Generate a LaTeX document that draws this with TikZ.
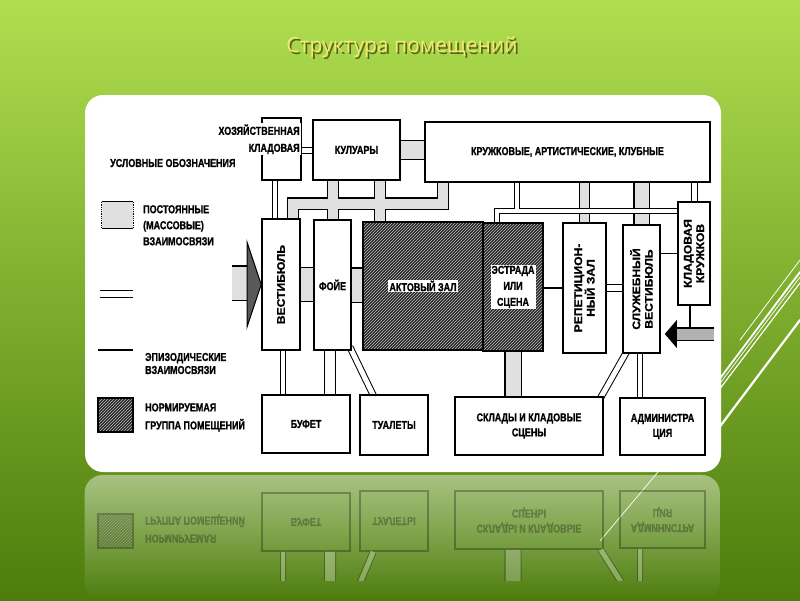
\documentclass[tikz,border=0pt]{standalone}
\usepackage{fontspec}
\setmainfont{Liberation Sans}
\newfontfamily\titlefont{Open Sans}
\newfontfamily\roomfont[FakeStretch=0.78, BoldFeatures={FakeBold=1}]{Liberation Sans}
\newfontfamily\vertfont[FakeStretch=1.1, BoldFeatures={FakeBold=1}]{Liberation Sans}
\usetikzlibrary{calc,patterns,fadings}

\definecolor{slidetop}{RGB}{176,222,80}
\definecolor{slidebot}{RGB}{76,124,12}
\definecolor{titleyellow}{RGB}{248,230,110}
\definecolor{titleshade}{RGB}{60,70,15}
\definecolor{stipple}{RGB}{224,224,224}

\pgfdeclarelayer{back}
\pgfdeclarelayer{links}
\pgfsetlayers{back,links,main}

% bottom row of rooms (drawn twice: plan and reflection)
\newcommand\lowerrooms[1]{%
  \node[normed, minimum width=35, minimum height=34] (#1legnorm) at (115.5,415) {};
  \node[legtext, anchor=west] (#1legnormtxt) at (145,417.5) {НОРМИРУЕМАЯ\\[2pt]ГРУППА ПОМЕЩЕНИЙ};
  \node[room, minimum width=88, minimum height=58] (#1bufet) at (306,424) {БУФЕТ};
  \node[room, minimum width=68, minimum height=60] (#1tual) at (394,425) {ТУАЛЕТЫ};
  \node[room, minimum width=148, minimum height=58] (#1sklad) at (529,426) {СКЛАДЫ И КЛАДОВЫЕ\\СЦЕНЫ};
  \node[room, minimum width=85, minimum height=57] (#1adm) at (662.5,426.5) {АДМИНИСТРА\\ЦИЯ};
}

\begin{document}
\begin{tikzpicture}[x=1pt, y=-1pt,
    room/.style={draw, line width=1.6pt, fill=white, inner sep=1pt, align=center,
      font=\roomfont\bfseries\fontsize{11.5}{15}\selectfont},
    normed/.style={draw, line width=1.6pt, preaction={fill=black!85},
      pattern=north east lines, pattern color=black!25},
    vtext/.style={rotate=90, align=center, inner sep=0pt,
      font=\vertfont\bfseries\fontsize{11}{12.5}\selectfont},
    hltext/.style={fill=white, inner sep=1pt, align=center,
      font=\roomfont\bfseries\fontsize{11.5}{16}\selectfont},
    legtext/.style={align=left, inner sep=0pt,
      font=\roomfont\bfseries\fontsize{11.5}{16}\selectfont},
    mass/.style={line width=1.2pt, double=stipple, double distance=#1},
    mass/.default=10pt,
    svc/.style={line width=1pt, double=white, double distance=#1},
    svc/.default=4pt,
    epi/.style={line width=1.4pt},
    deco/.style={draw=white, line cap=round}]

  \useasboundingbox (0,0) rectangle (800,600);

  % Slide
  \begin{pgfonlayer}{back}
    \shade[top color=slidetop, bottom color=slidebot] (0,0) rectangle (800,600);
    \draw[deco, line width=.8pt] (800,260) -- (740,340);
    \draw[deco, line width=1.8pt] (800,272) -- (700,405);
    \draw[deco, line width=.8pt] (800,277) -- (700,410);
    \draw[deco, line width=1.2pt] (800,283) -- (700,415);
    \draw[deco, line width=2.2pt] (800,320) -- (700,453);
    \draw[deco, line width=.7pt] (700,422) -- (600,541);
    \fill[white, rounded corners=18pt] (85,95) rectangle (721,472);

    % Reflection
    \fill[white, opacity=.45, path fading=south, rounded corners=18pt] (85,475) rectangle (721,600);
    \begin{scope}
      \clip (85,474) rectangle (721,580);
      \begin{scope}[shift={(0,946)}, yscale=-1, transparency group, opacity=.28,
          every node/.append style={transform shape}, room/.append style={fill=none}]
        \lowerrooms{r}
        \draw[svc] (rbufet.north -| 283,0) -- (283,360);
        \draw[svc=10pt] (rbufet.north -| 330,0) -- (330,360);
        \draw[svc=5pt] ($(rtual.north west)+(14,0)$) -- (355,351);
        \draw[mass=15pt] (rsklad.north -| 513,0) -- (513,360);
        \draw[svc=5pt] ($(rsklad.north east)+(-3,0)$) -- (628,353);
        \draw[svc] (radm.north -| 640,0) -- (640,360);
      \end{scope}
    \end{scope}
  \end{pgfonlayer}

  % Title
  \node[font=\titlefont\fontsize{21}{25}\selectfont, text=titleshade, opacity=.8] (titleshadow) at (403.8,48.8) {Структура помещений};
  \node[font=\titlefont\fontsize{21}{25}\selectfont, text=titleyellow] (title) at (402,47) {Структура помещений};

  % Rooms
  \node[room, minimum width=39, minimum height=62] (hoz) at (281.5,149) {};
  \node[legtext, align=right, fill=white, inner sep=1pt, anchor=north east, font=\roomfont\bfseries\fontsize{11.5}{17}\selectfont] (hozlbl) at ($(hoz.north east)+(-1,6)$) {ХОЗЯЙСТВЕННАЯ\\КЛАДОВАЯ};
  \node[room, minimum width=87, minimum height=60] (kul) at (356.5,150) {КУЛУАРЫ};
  \node[room, minimum width=285, minimum height=60] (kruzh) at (567.5,152) {КРУЖКОВЫЕ, АРТИСТИЧЕСКИЕ, КЛУБНЫЕ};
  \node[room, minimum width=38, minimum height=131, label={[vtext]center:ВЕСТИБЮЛЬ}] (vest) at (281,284.5) {};
  \node[room, minimum width=37, minimum height=130] (foje) at (332.5,285) {ФОЙЕ};
  \node[normed, minimum width=120, minimum height=128, label={[hltext]center:АКТОВЫЙ ЗАЛ}] (akt) at (423,286) {};
  \node[normed, minimum width=60, minimum height=128, label={[hltext]center:ЭСТРАДА\\ИЛИ\\СЦЕНА}] (estr) at (513,287) {};
  \node[room, minimum width=43, minimum height=130, label={[vtext]center:РЕПЕТИЦИОН-\\НЫЙ ЗАЛ}] (rep) at (584.5,288) {};
  \node[room, minimum width=37, minimum height=128, label={[vtext]center:СЛУЖЕБНЫЙ\\ВЕСТИБЮЛЬ}] (sluz) at (641.5,289) {};
  \node[room, minimum width=32, minimum height=103, label={[vtext]center:КЛАДОВАЯ\\КРУЖКОВ}] (klad) at (694,253.5) {};
  \lowerrooms{}

  % Legend
  \node[legtext, anchor=west] (legtitle) at (110,163) {УСЛОВНЫЕ ОБОЗНАЧЕНИЯ};
  \node[fill=stipple, minimum width=31, minimum height=26, inner sep=0pt] (legmass) at (117.5,215) {};
  \draw[line width=1.3pt] (legmass.north west) -- (legmass.north east) (legmass.south west) -- (legmass.south east);
  \draw[densely dotted, line width=.8pt] (legmass.north west) -- (legmass.south west) (legmass.north east) -- (legmass.south east);
  \node[legtext, anchor=north west] (legmasstxt) at (143,205) {ПОСТОЯННЫЕ\\(МАССОВЫЕ)\\ВЗАИМОСВЯЗИ};
  \draw[svc=6pt] (100,294) -- (133,294);
  \draw[epi] (98,350) -- (133,350);
  \node[legtext, anchor=west] (legepitxt) at (145,363.5) {ЭПИЗОДИЧЕСКИЕ\\[-3pt]ВЗАИМОСВЯЗИ};

  % Links
  \begin{pgfonlayer}{links}
    % massive links, corridor
    \foreach \w/\c in {12.4pt/black, 10pt/stipple}
      \draw[line width=\w, draw=\c] (vest -| 293,0) -- (293,203.5) -- (443,203.5) -- (kruzh -| 443,0)
        (kul -| 333,0) -- (foje -| 333,0)
        (kul -| 380,0) -- (akt -| 380,0);
    \draw[mass=18pt] (kul) -- (kul -| kruzh);
    \draw[mass=33pt] (vest) -- (vest -| foje);
    \draw[mass=33pt] (foje) -- (foje -| akt);
    \draw[mass=15pt] (estr) -- (estr |- sklad);
    \draw[mass=9pt] (kruzh -| rep) -- (rep);
    \draw[mass=14pt] (kruzh -| sluz) -- (sluz);

    % service links
    \foreach \w/\c in {6pt/black, 4pt/white}
      \draw[line width=\w, draw=\c] (estr -| 497,0) -- (497,211) -- (klad |- 0,211)
        (kruzh -| 517,0) -- (517,211);
    \draw[svc] (hoz -| 275,0) -- (vest -| 275,0);
    \draw[svc=5pt] (kul -| hoz) -- (kul);
    \draw[svc=5pt] (kruzh -| klad) -- (klad);
    \draw[svc=6pt] (rep) -- (rep -| sluz);
    \draw[svc] (vest -| 283,0) -- (bufet -| 283,0);
    \draw[svc=10pt] (foje -| 330,0) -- (bufet -| 330,0);
    \draw[svc=5pt] ($(foje.south east)+(-2,-4)$) -- ($(tual.north west)+(15,3)$);
    \draw[svc] (sluz -| 640,0) -- (adm -| 640,0);
    \draw[svc=5pt] ($(sluz.south west)+(5,-3)$) -- ($(sklad.north east)+(-4,3)$);

    % episodic links
    \draw[epi] (rep -| estr) -- (rep);
    \draw[epi] (sluz |- klad) -- (klad);
    \draw[epi] (klad -| 690,0) -- (690,328);

    % entrances
    \coordinate (entL) at (232,283);
    \draw[mass=33pt] (entL) -- (249,283);
    \filldraw[line width=1pt, fill=black!65] (247,242) -- (vest.west) -- (247,327) -- cycle;
    \coordinate (entR) at (714,334);
    \draw[line width=1.3pt, double=black!30, double distance=11pt] (entR) -- (671,334);
    \fill ($(sluz.east |- entR)+(4,0)$) -- ++(12,-14) -- ++(0,28) -- cycle;
  \end{pgfonlayer}
\end{tikzpicture}
\end{document}
